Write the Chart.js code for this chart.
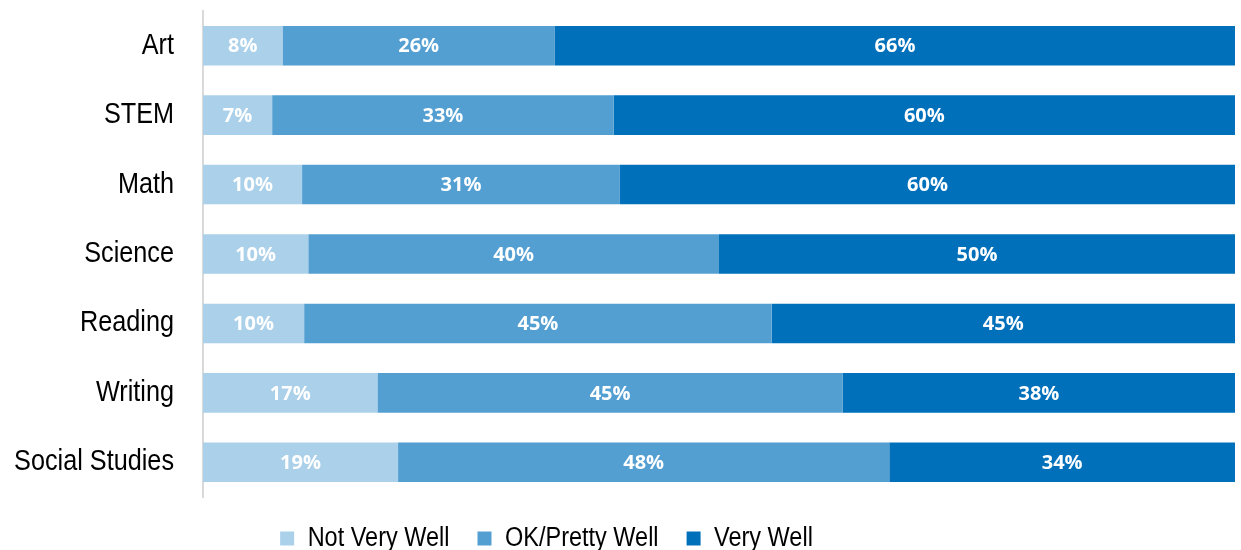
<!DOCTYPE html>
<html>
<head>
<meta charset="utf-8">
<script src="https://cdn.jsdelivr.net/npm/chart.js@4"></script>
<style>
  html, body { margin: 0; padding: 0; background: #fff; }
  #wrap { width: 1241px; height: 550px; }
</style>
</head>
<body>
<div id="wrap"><canvas id="c" width="1241" height="550"></canvas></div>
<script>
const categories = ['Art', 'STEM', 'Math', 'Science', 'Reading', 'Writing', 'Social Studies'];
const seriesNames = ['Not Very Well', 'OK/Pretty Well', 'Very Well'];
const notVeryWell = [7.7, 6.7, 9.6, 10.2, 9.8, 16.9, 18.9];
const okPrettyWell = [26.4, 33.1, 30.8, 39.8, 45.3, 45.1, 47.6];
const veryWell = [65.9, 60.2, 59.6, 50.0, 44.9, 38.0, 33.5];
const colors = ['#abd0ea', '#549fd2', '#0070bb'];

// Condensed rendering of a regular sans (no narrow font is installed):
// text whose font family list starts with "FakeNarrow" is squeezed horizontally.
const SQUEEZE = 0.87;
const NARROW = "FakeNarrow, 'Liberation Sans', Arial, sans-serif";
(function () {
  const proto = CanvasRenderingContext2D.prototype;
  const origFill = proto.fillText;
  const origMeasure = proto.measureText;
  proto.fillText = function (t, x, y, mw) {
    if (this.font.indexOf('FakeNarrow') >= 0) {
      this.save();
      this.translate(x, y);
      this.scale(SQUEEZE, 1);
      origFill.call(this, t, 0, 0);
      this.restore();
    } else if (mw === undefined) {
      origFill.call(this, t, x, y);
    } else {
      origFill.call(this, t, x, y, mw);
    }
  };
  proto.measureText = function (t) {
    const m = origMeasure.call(this, t);
    if (this.font.indexOf('FakeNarrow') >= 0) {
      return {
        width: m.width * SQUEEZE,
        actualBoundingBoxAscent: m.actualBoundingBoxAscent,
        actualBoundingBoxDescent: m.actualBoundingBoxDescent,
        actualBoundingBoxLeft: m.actualBoundingBoxLeft * SQUEEZE,
        actualBoundingBoxRight: m.actualBoundingBoxRight * SQUEEZE,
        fontBoundingBoxAscent: m.fontBoundingBoxAscent,
        fontBoundingBoxDescent: m.fontBoundingBoxDescent
      };
    }
    return m;
  };
})();

const barLabels = {
  id: 'barLabels',
  afterDatasetsDraw(chart) {
    const ctx = chart.ctx;
    ctx.save();
    ctx.font = "bold 20px 'Open Sans', sans-serif";
    ctx.fillStyle = '#ffffff';
    ctx.textAlign = 'center';
    ctx.textBaseline = 'middle';
    chart.data.datasets.forEach((ds, di) => {
      const meta = chart.getDatasetMeta(di);
      meta.data.forEach((el, i) => {
        const cx = (el.x + el.base) / 2;
        ctx.fillText(Math.round(ds.data[i]) + '%', cx, el.y + 1);
      });
    });
    ctx.restore();
  }
};

const legendShift = {
  id: 'legendShift',
  afterLayout(chart) {
    const lg = chart.legend;
    if (lg) { lg.left -= 71; lg.right -= 71; }
  }
};

new Chart(document.getElementById('c'), {
  type: 'bar',
  data: {
    labels: categories,
    datasets: [
      { label: seriesNames[0], data: notVeryWell, backgroundColor: colors[0] },
      { label: seriesNames[1], data: okPrettyWell, backgroundColor: colors[1] },
      { label: seriesNames[2], data: veryWell, backgroundColor: colors[2] }
    ]
  },
  options: {
    indexAxis: 'y',
    responsive: false,
    animation: false,
    layout: { padding: { top: 11, right: 6, bottom: -12, left: 0 } },
    datasets: { bar: { categoryPercentage: 1, barPercentage: 0.57, borderWidth: 0 } },
    scales: {
      x: {
        stacked: true, min: 0, max: 100, display: false
      },
      y: {
        stacked: true,
        afterFit(scale) {
          scale.width = 203;
          scale.paddingTop = 0;
          scale.paddingBottom = 0;
        },
        grid: { display: false, drawTicks: false },
        border: { display: true, color: '#d9d9d9', width: 2 },
        ticks: {
          padding: 29,
          color: '#000000',
          font: { family: NARROW, size: 29 }
        }
      }
    },
    plugins: {
      legend: {
        position: 'bottom',
        labels: {
          boxWidth: 14, boxHeight: 14, padding: 28,
          color: '#000000',
          font: { family: NARROW, size: 27 }
        }
      },
      tooltip: { enabled: false }
    }
  },
  plugins: [barLabels, legendShift]
});
</script>
</body>
</html>
